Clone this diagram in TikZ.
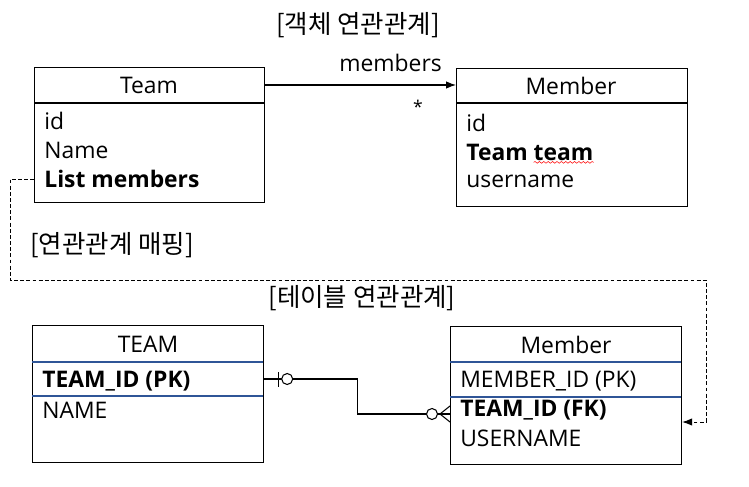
\documentclass[tikz,border=0pt]{standalone}
\usepackage{fontspec}
\setmainfont{Open Sans}
\newfontfamily\kor{Noto Sans CJK KR}
\usetikzlibrary{arrows.meta, positioning, calc, decorations.pathmorphing}
\definecolor{cRow}{RGB}{47,85,151}
\tikzset{
	entity/.style   ={rectangle, draw=black, line width=0.7pt, inner sep=0pt, anchor=north west, minimum width=4.62cm},
	ttl/.style      ={font=\fontsize{13}{15}\selectfont, inner sep=0pt},
	attr/.style     ={anchor=west, inner sep=0pt, font=\fontsize{13}{15}\selectfont},
	keyattr/.style  ={attr, font=\fontsize{13}{15}\selectfont\bfseries},
	heading/.style  ={font=\kor\fontsize{14.5}{16}\selectfont, inner sep=0pt},
	refarrow/.style ={-{Latex[length=2mm, width=1.5mm]}, line width=0.6pt},
	maparrow/.style ={-{Latex[length=2mm, width=1.5mm]}, line width=0.5pt, dash pattern=on 2.2pt off 1.3pt},
	rel/.style      ={line width=0.6pt},
}

\begin{document}
\begin{tikzpicture}[x=0.02cm, y=-0.02cm]
	\useasboundingbox (0,0) rectangle (749,486);
	% object model
	\node[heading] (objcap) at (358,25) {[객체 연관관계]};
	\node[entity, minimum width=4.6cm, minimum height=2.7cm] (team) at (34,67) {};
	\node[entity, minimum height=2.76cm] (member) at (456,68) {};
	\draw[line width=0.7pt] (34,103) -- (264,103);
	\draw[line width=0.7pt] (456,103) -- (687,103);
	\node[ttl] (teamttl) at (149,85) {Team};
	\node[ttl] (memttl) at (571,86) {Member};
	\node[attr] (tid) at (44,121) {id};
	\node[attr] (tname) at (44,150) {Name};
	\node[keyattr] (tlist) at (44,179) {List members};
	\node[attr] (mid) at (466,123) {id};
	\node[keyattr] (mteam) at (466,152) {Team team};
	\node[attr] (muser) at (466,181) {username};
	\draw[red, line width=0.3pt, decorate, decoration={snake, amplitude=0.5pt, segment length=2.5pt}]
		([xshift=-1.2cm, yshift=-1pt]mteam.south east) -- ([yshift=-1pt]mteam.south east);
	\draw[refarrow] (team.east |- 0,85) -- node[above=7pt, ttl, xshift=0.6cm] (memlbl) {members} (member.west |- 0,85);
	\node[ttl, font=\fontsize{10}{12}\selectfont] (many) at (418,107) {*};
	% mapping
	\node[heading, anchor=west] (mapcap) at (30,245) {[연관관계 매핑]};
	\coordinate (mapA) at (10,280);
	\coordinate (mapB) at (706,280);
	\coordinate (mapC) at (706,422);
	% table model
	\node[heading] (tblcap) at (362,298) {[테이블 연관관계]};
	\node[entity, minimum height=2.74cm] (TEAM) at (32,325) {};
	\node[entity, minimum height=2.76cm] (MEMBER) at (450,326) {};
	\draw[cRow, line width=0.7pt] (32,362) -- (263,362) (32,396) -- (263,396);
	\draw[cRow, line width=0.7pt] (450,362) -- (681,362) (450,397) -- (681,397);
	\node[ttl] (TEAMttl) at (148,344) {TEAM};
	\node[ttl] (MEMttl) at (566,345) {Member};
	\node[keyattr] (tpk) at (42,381) {TEAM\_ID (PK)};
	\node[attr] (tnm) at (42,410) {NAME};
	\node[attr] (mpk) at (460,381) {MEMBER\_ID (PK)};
	\node[keyattr] (mfk) at (460,410) {TEAM\_ID (FK)};
	\node[attr] (musr) at (460,438) {USERNAME};
	% connectors
	\draw[maparrow] (team.west |- tlist) -| (mapA) -- (mapB) -- (mapC) -- (MEMBER.east |- mapC);
	\coordinate (pkend) at (TEAM.east |- 0,379);
	\coordinate (fkend) at (MEMBER.west |- 0,414);
	\draw[rel] (pkend) -| ($(pkend)!.5!(fkend)$) |- (fkend);
	\draw[rel] ([xshift=0.28cm]pkend) ++(0,-7) -- ++(0,15);
	\draw[rel, fill=white] ([xshift=0.46cm]pkend) circle (5.5);
	\draw[rel] ([xshift=-0.2cm]fkend) -- ([yshift=-0.16cm]fkend) ([xshift=-0.2cm]fkend) -- ([yshift=0.16cm]fkend);
	\draw[rel, fill=white] ([xshift=-0.36cm]fkend) circle (5.5);
\end{tikzpicture}
\end{document}
